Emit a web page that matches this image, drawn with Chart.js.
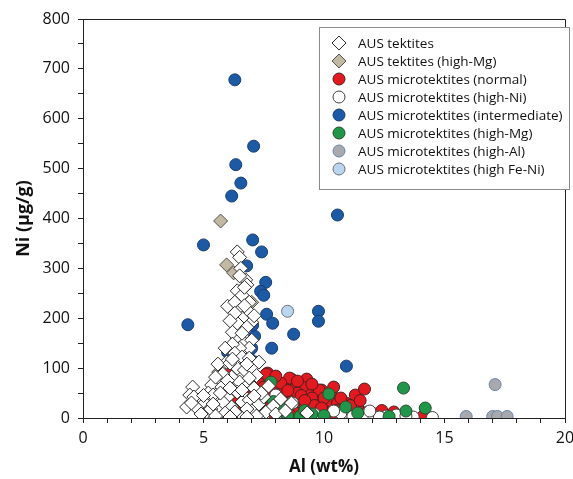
<!DOCTYPE html>
<html>
<head>
<meta charset="utf-8">
<script src="https://cdn.jsdelivr.net/npm/chart.js@4"></script>
<style>
  html, body { margin: 0; padding: 0; background: #fff; }
  #wrap { width: 573px; height: 479px; }
</style>
</head>
<body>
<div id="wrap"><canvas id="grafico"></canvas></div>
<script>
// DADOS  [Al wt%, Ni ug/g]
const tektites = [
  [6.4,333],[6.5,322],[6.55,300],[6.75,277],[6.8,267],[6.4,255],[6.6,246],[6.0,224],[6.3,232],[6.5,216],
  [6.9,232],[6.9,212],[6.6,200],[7.0,192],[6.4,190],[6.8,182],[6.4,160],[6.7,150],[7.0,156],[6.2,172],
  [6.6,170],[6.9,140],[6.5,140],[6.2,148],[7.1,205],[6.7,225],[6.3,210],[6.1,195],
  [6.3,130],[6.6,122],[6.9,120],[5.96,112],[6.4,100],[6.7,96],[6.17,82],[5.34,66],[5.76,62],[6.5,72],
  [6.83,66],[4.55,62],[5.6,108],[5.8,88],[6.1,110],[7.0,100],[7.2,85],[6.0,75],[5.5,82],[7.1,60],[6.9,80],[5.2,50],
  [4.43,46],[4.76,36],[4.3,22],[5.05,30],[5.4,46],[5.6,20],[6.0,42],[6.17,22],[6.4,52],[6.6,32],
  [6.9,36],[7.04,16],[6.6,6],[5.13,12],[4.72,20],[4.6,42],[5.3,18],[5.8,32],[5.9,10],[6.3,12],
  [6.8,18],[7.3,28],[7.5,42],[7.6,12],[7.9,24],[8.2,38],[8.65,30],[9.3,10],[8.0,8],[7.2,4],
  [5.5,4],[4.9,8],[6.1,2],[6.8,2],[7.4,50],[7.7,64],[8.4,14],[5.0,45],[5.7,50],[4.5,30],
  [6.7,262],[6.5,285],[6.2,118],[6.8,108],[5.9,140],[6.6,56],[7.3,112],[6.1,60],[5.4,28],[7.1,44]
]
const tektitesHighMg = [[5.71,395],[5.96,307],[6.25,291],[5.63,92],[7.0,232]]
const microNormal = [
  [7.66,90],[8.65,78],[9.28,78],[8.86,66],[9.36,56],[9.9,56],[9.8,36],[10.2,26],[8.7,42],[8.3,50],
  [10.6,26],[6.9,90],[11.3,46],[11.68,58],[14.1,3],[10.56,30],[7.6,88],[8.57,80],[9.1,62],[8.3,62],
  [9.8,56],[6.08,90],[7.1,82],[7.3,70],[7.8,55],[8.1,40],[9.5,40],[9.0,30],[10.0,40],[10.8,15],
  [11.0,8],[11.6,3],[12.2,3],[12.0,10],[10.4,5],[9.7,15],[9.2,20],[8.8,10],[8.4,25],[8.0,15],
  [7.6,5],[7.2,10],[6.8,3],[6.5,8],[6.2,3],[7.0,25],[7.4,35],[7.9,30],[8.6,5],[9.4,3],
  [10.1,12],[10.9,30],[11.4,20],[12.5,8],[13.3,3],[12.9,12],[7.3,45],[7.7,20],[9.6,25],[8.9,50],
  [10.3,50],[6.6,20],[6.3,40],[7.0,60],[8.2,70],[9.05,45],[10.7,40],[11.1,25],[11.8,12],[12.4,15],
  [8.9,74],[9.5,68],[10.4,62],[8.0,84],[9.2,35],[9.9,20],[10.5,15],[8.5,55],[7.5,62],[11.5,35]
]
const microHighNi = [
  [12.0,6],[12.6,4],[13.0,6],[13.7,2],[14.5,1],[10.8,10],[11.6,6],[8.0,46],[8.7,30],[9.3,10],
  [9.9,2],[10.7,10],[10.0,2],[11.2,3],[12.3,2],[13.4,4],[9.6,8],[8.4,6],[10.4,14],[11.9,14],[7.5,3]
]
const microIntermediate = [
  [6.3,678],[7.08,545],[6.34,508],[6.55,471],[6.17,445],[5.0,347],[4.35,187],[7.04,357],[7.41,333],[6.79,305],
  [7.58,272],[7.37,254],[7.5,246],[7.62,208],[7.87,190],[8.74,168],[9.77,214],[9.77,194],[7.83,140],[7.12,164],
  [7.04,186],[6.0,132],[7.16,112],[10.93,104],[6.42,206],[10.56,407],[6.9,120],[7.0,140]
]
const microHighMg = [
  [7.8,72],[7.9,33],[8.4,10],[8.5,3],[9.0,3],[9.5,8],[10.2,48],[10.9,22],[11.4,10],[12.7,3],
  [13.3,60],[13.4,14],[14.2,20],[9.2,15],[8.2,20],[10.0,5]
]
const microHighAl = [[15.9,3],[17.0,3],[17.2,3],[17.6,3],[17.1,67]]
const microHighFeNi = [[8.49,214]]

const xTicks = [0, 5, 10, 15, 20]
const yTicks = [0, 100, 200, 300, 400, 500, 600, 700, 800]

const fonte = "'Open Sans', 'Noto Sans', sans-serif"

function pts(arr) {
  return arr.map(p => ({ x: p[0], y: p[1] }))
}

function serie(label, arr, forma, cor, borda, raio) {
  return {
    label: label,
    data: pts(arr),
    pointStyle: forma,
    backgroundColor: cor,
    borderColor: borda,
    borderWidth: 1,
    pointRadius: raio,
    pointHoverRadius: raio
  }
}

const datasets = [
  serie('AUS tektites', tektites, 'rectRot', '#ffffff', '#2a2a2a', 7),
  serie('AUS tektites (high-Mg)', tektitesHighMg, 'rectRot', '#c3b8a2', '#505050', 7),
  serie('AUS microtektites (normal)', microNormal, 'circle', '#e3191f', '#4a2020', 6),
  serie('AUS microtektites (high-Ni)', microHighNi, 'circle', '#ffffff', '#404040', 6),
  serie('AUS microtektites (intermediate)', microIntermediate, 'circle', '#1b5aa6', '#1a3d70', 6),
  serie('AUS microtektites (high-Mg)', microHighMg, 'circle', '#1e9848', '#2a4a30', 6),
  serie('AUS microtektites (high-Al)', microHighAl, 'circle', '#a7a9ac', '#6a85aa', 6),
  serie('AUS microtektites (high Fe-Ni)', microHighFeNi, 'circle', '#b9d6f0', '#707070', 6)
]
// ordem de desenho: diamantes por cima
const ordem = [0, 1, 4, 3, 5, 2, 6, 7]
datasets.forEach((d, i) => { d.order = ordem[i] })

// moldura + legenda
const moldura = {
  id: 'moldura',
  afterDraw(chart) {
    const ctx = chart.ctx
    const a = chart.chartArea
    ctx.save()
    ctx.strokeStyle = '#222'
    ctx.lineWidth = 1
    ctx.beginPath()
    ctx.moveTo(a.left, a.top + 0.5)
    ctx.lineTo(a.right + 0.5, a.top + 0.5)
    ctx.lineTo(a.right + 0.5, a.bottom)
    ctx.stroke()

    // legenda
    const bx = 319, by = 27, bw = 250, bh = 162
    ctx.fillStyle = '#fff'
    ctx.fillRect(bx, by, bw, bh)
    ctx.strokeStyle = '#8a8a8a'
    ctx.strokeRect(bx + 0.5, by + 0.5, bw, bh)
    ctx.font = '13.5px ' + fonte
    ctx.textBaseline = 'middle'
    chart.data.datasets.forEach((d, i) => {
      const cy = 43 + i * 18
      ctx.fillStyle = d.backgroundColor
      ctx.strokeStyle = d.borderColor
      ctx.beginPath()
      if (d.pointStyle === 'circle') {
        ctx.arc(339, cy, 6, 0, Math.PI * 2)
      } else {
        ctx.moveTo(339, cy - 7); ctx.lineTo(346, cy); ctx.lineTo(339, cy + 7); ctx.lineTo(332, cy); ctx.closePath()
      }
      ctx.fill()
      ctx.stroke()
      ctx.fillStyle = '#111'
      ctx.fillText(d.label, 358, cy + 1)
    })
    ctx.restore()
  }
}

new Chart(document.getElementById('grafico'), {
  type: 'scatter',
  data: { datasets: datasets },
  options: {
    responsive: true,
    maintainAspectRatio: false,
    animation: false,
    events: [],
    layout: { padding: { top: 19, right: 0, left: 0, bottom: 0 } },
    plugins: {
      legend: { display: false },
      tooltip: { enabled: false }
    },
    scales: {
      x: {
        type: 'linear',
        min: 0, max: 20,
        afterFit(s) { s.height = 61; s.paddingRight = 7; s.paddingLeft = 0 },
        ticks: {
          stepSize: 1,
          autoSkip: false,
          maxRotation: 0,
          color: '#111',
          font: { family: fonte, size: 16 },
          padding: 6,
          callback: v => xTicks.includes(v) ? String(v) : ''
        },
        grid: { drawOnChartArea: false, drawTicks: true, tickLength: 5, color: '#222' },
        border: { color: '#222', width: 1 },
        title: {
          display: true,
          text: 'Al (wt%)',
          color: '#111',
          font: { family: fonte, size: 17, weight: 'bold' },
          padding: { top: 2, bottom: 2 }
        }
      },
      y: {
        type: 'linear',
        min: 0, max: 800,
        afterFit(s) { s.width = 83 },
        ticks: {
          stepSize: 50,
          autoSkip: false,
          color: '#111',
          font: { family: fonte, size: 16 },
          padding: 8,
          callback: v => yTicks.includes(v) ? String(v) : ''
        },
        grid: { drawOnChartArea: false, drawTicks: true, tickLength: 5, color: '#222' },
        border: { color: '#222', width: 1 },
        title: {
          display: true,
          text: 'Ni (µg/g)',
          color: '#111',
          font: { family: fonte, size: 18, weight: 'bold' },
          padding: { top: 13, bottom: 4 }
        }
      }
    }
  },
  plugins: [moldura]
})
</script>
</body>
</html>
